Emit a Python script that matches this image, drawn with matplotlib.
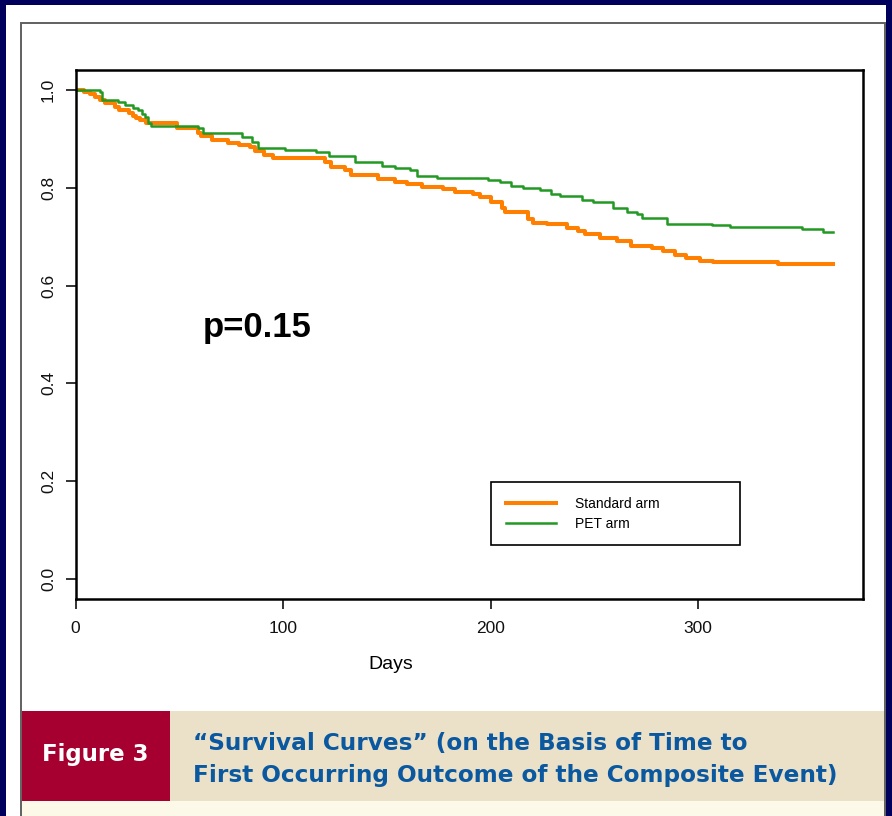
import matplotlib
matplotlib.use("Agg")
import matplotlib.pyplot as plt
from matplotlib.patches import Rectangle

plt.rcParams['font.family'] = ['Liberation Sans', 'DejaVu Sans']

# survival curves (day the step happens, survival from that day on)
std_days = [0, 4.3, 7, 9.4, 12, 14, 19, 21, 26, 27.5, 29, 31, 34, 49, 59, 60.5, 66, 73.5,
            79, 84, 86.5, 91, 95, 120, 123, 130, 133, 146, 154, 159.6, 167, 177, 183,
            191.6, 195, 200, 205.5, 207, 218, 220.5, 227, 237, 242, 245.5, 252.8, 261,
            267.7, 278, 283, 289, 294, 301, 307, 338.5, 365]
std_surv = [1.000, 0.996, 0.992, 0.986, 0.980, 0.973, 0.965, 0.959, 0.953, 0.947, 0.943,
            0.939, 0.933, 0.922, 0.912, 0.905, 0.898, 0.891, 0.888, 0.884, 0.875, 0.867,
            0.860, 0.852, 0.842, 0.836, 0.826, 0.818, 0.811, 0.807, 0.802, 0.798, 0.791,
            0.787, 0.782, 0.772, 0.758, 0.751, 0.736, 0.729, 0.725, 0.718, 0.712, 0.705,
            0.697, 0.691, 0.682, 0.676, 0.671, 0.663, 0.656, 0.651, 0.648, 0.644, 0.644]

pet_days = [0, 11.8, 13, 20.5, 24, 27.5, 30, 32, 33.5, 35, 36.5, 59, 61.5, 80, 85, 88, 101,
            116, 122, 134.7, 147.7, 154, 161, 164.6, 174, 199, 204.6, 210, 215.7, 224, 229,
            233.5, 244, 249.4, 259, 265.7, 270.6, 273, 285, 306.8, 315.4, 350, 360, 365]
pet_surv = [1.000, 0.996, 0.980, 0.975, 0.969, 0.963, 0.959, 0.951, 0.945, 0.932, 0.927,
            0.922, 0.912, 0.903, 0.894, 0.881, 0.877, 0.874, 0.866, 0.853, 0.845, 0.841,
            0.836, 0.825, 0.821, 0.817, 0.8125, 0.803, 0.800, 0.795, 0.787, 0.783, 0.775,
            0.772, 0.759, 0.751, 0.746, 0.739, 0.727, 0.724, 0.719, 0.715, 0.710, 0.710]

x_ticks = [0, 100, 200, 300]
y_ticks = [0.0, 0.2, 0.4, 0.6, 0.8, 1.0]
labels = ['Standard arm', 'PET arm']

W, H = 892, 816
fig = plt.figure(figsize=(W / 100, H / 100), dpi=100, facecolor='#00005c')


def box(x0, y0, x1, y1, **kw):
    # pixel box (top-left origin) -> figure rectangle
    r = Rectangle((x0 / W, 1 - y1 / H), (x1 - x0) / W, (y1 - y0) / H,
                  transform=fig.transFigure, zorder=-2, **kw)
    fig.add_artist(r)


box(6, 5, 886, 830, facecolor='white', edgecolor='none')
box(21, 23, 885, 830, facecolor='none', edgecolor='#606060', linewidth=1.4)
box(22, 711, 170, 801, facecolor='#a5002f', edgecolor='none')
box(170, 711, 884, 801, facecolor='#ebe1c8', edgecolor='none')
box(22, 801, 884, 830, facecolor='#fdf9e9', edgecolor='none')

fig.text(95 / W, 1 - 755 / H, 'Figure 3', color='white', fontsize=16.5,
         fontweight='bold', family='DejaVu Sans', ha='center', va='center')
fig.text(193 / W, 1 - 750 / H, '\u201cSurvival Curves\u201d (on the Basis of Time to',
         color='#0a58a0', fontsize=16.7, fontweight='bold', family='DejaVu Sans',
         va='baseline')
fig.text(193 / W, 1 - 782 / H, 'First Occurring Outcome of the Composite Event)',
         color='#0a58a0', fontsize=16.7, fontweight='bold', family='DejaVu Sans',
         va='baseline')

ax = fig.add_axes([75.5 / W, 1 - 599 / H, (863 - 75.5) / W, (599 - 70) / H])
ax.step(std_days, std_surv, where='post', color='#ff8000', lw=2.9, label=labels[0])
ax.step(pet_days, pet_surv, where='post', color='#229922', lw=1.8, label=labels[1])

ax.set_xlim(0, 379.5)
ax.set_ylim(-0.041, 1.041)
ax.set_xticks(x_ticks)
ax.set_yticks(y_ticks)
ax.set_yticklabels(['%.1f' % v for v in y_ticks], rotation=90, va='center')
ax.tick_params(axis='both', direction='out', length=7, width=1.2, labelsize=12.5,
               colors='#111111')
ax.tick_params(axis='x', pad=9)
ax.tick_params(axis='y', pad=7)
for s in ax.spines.values():
    s.set_linewidth(1.8)
    s.set_color('black')

ax.set_xlabel('Days', fontsize=14)
ax.xaxis.set_label_coords(0.40, -0.108)

ax.text(61.4, 0.515, 'p=0.15', fontsize=25, fontweight='bold', ha='left', va='center')

leg = ax.legend(loc='upper left', bbox_to_anchor=(0.5276, 0.2212, 0.3162, 0.0),
                mode='expand', borderaxespad=0, fontsize=10, fancybox=False,
                framealpha=1, edgecolor='black', handlelength=3.6,
                handletextpad=1.4, labelspacing=0.44, borderpad=1.05)
leg.get_frame().set_linewidth(1.2)

fig.savefig('out.png', dpi=100, facecolor=fig.get_facecolor())
